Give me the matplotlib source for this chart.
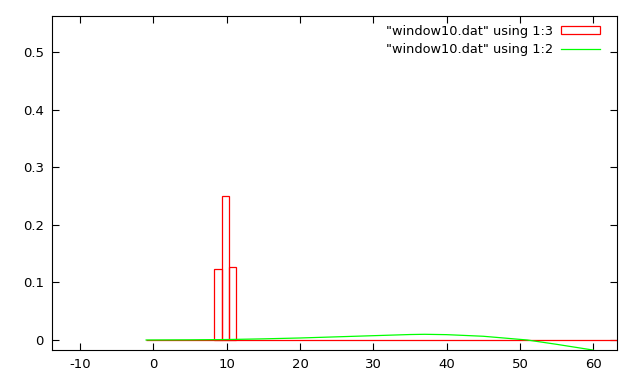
import matplotlib
matplotlib.use("Agg")
import matplotlib.pyplot as plt
from matplotlib.ticker import FuncFormatter

# histogram column 1:3 (boxes)
box_x = [8.8, 9.8, 10.8]
box_y = [0.123, 0.251, 0.127]
box_width = 1.0
base_start, base_end = -1.0, 64.0

# column 1:2 (line)
line_x = [-1.0, 5, 10, 15, 20, 25, 30, 35, 37, 40, 45, 51, 55, 60]
line_y = [0.0, 0.0003, 0.0008, 0.002, 0.0035, 0.0055, 0.0075, 0.0095, 0.0099, 0.0093, 0.0065, 0.0, -0.0075, -0.0175]

xticks = [-10, 0, 10, 20, 30, 40, 50, 60]
yticks = [0, 0.1, 0.2, 0.3, 0.4, 0.5]

plt.rcParams['font.family'] = ['DejaVu Sans']
plt.rcParams['axes.unicode_minus'] = False
fig = plt.figure(figsize=(6.4, 3.84), dpi=100)
ax = fig.add_axes([0.0817, 0.0885, 0.9636 - 0.0817, 0.9583 - 0.0885])

ax.hlines(0, base_start, base_end, color='#ff0000', lw=0.9)
bars = ax.bar(box_x, box_y, width=box_width, fill=False, edgecolor='#ff0000', lw=0.9,
              label='"window10.dat" using 1:3')
line, = ax.plot(line_x, line_y, color='#00ff00', lw=0.9, label='"window10.dat" using 1:2')

ax.set_xlim(-13.8, 63.2)
ax.set_ylim(-0.0174, 0.563)
ax.set_xticks(xticks)
ax.set_yticks(yticks)
ax.yaxis.set_major_formatter(FuncFormatter(lambda v, p: '%g' % v))
ax.tick_params(direction='in', length=5, width=0.8, top=True, right=True,
               labelsize=9.5, pad=6)
for s in ax.spines.values():
    s.set_linewidth(0.8)

ax.legend(handles=[bars, line], loc='upper right', bbox_to_anchor=(0.988, 1.005),
          frameon=False, markerfirst=False,
          fontsize=9.3, handlelength=3.0, handleheight=0.55, labelspacing=0.4,
          borderaxespad=0.3, handletextpad=0.6, borderpad=0.5)

fig.savefig('out.png', dpi=100)
